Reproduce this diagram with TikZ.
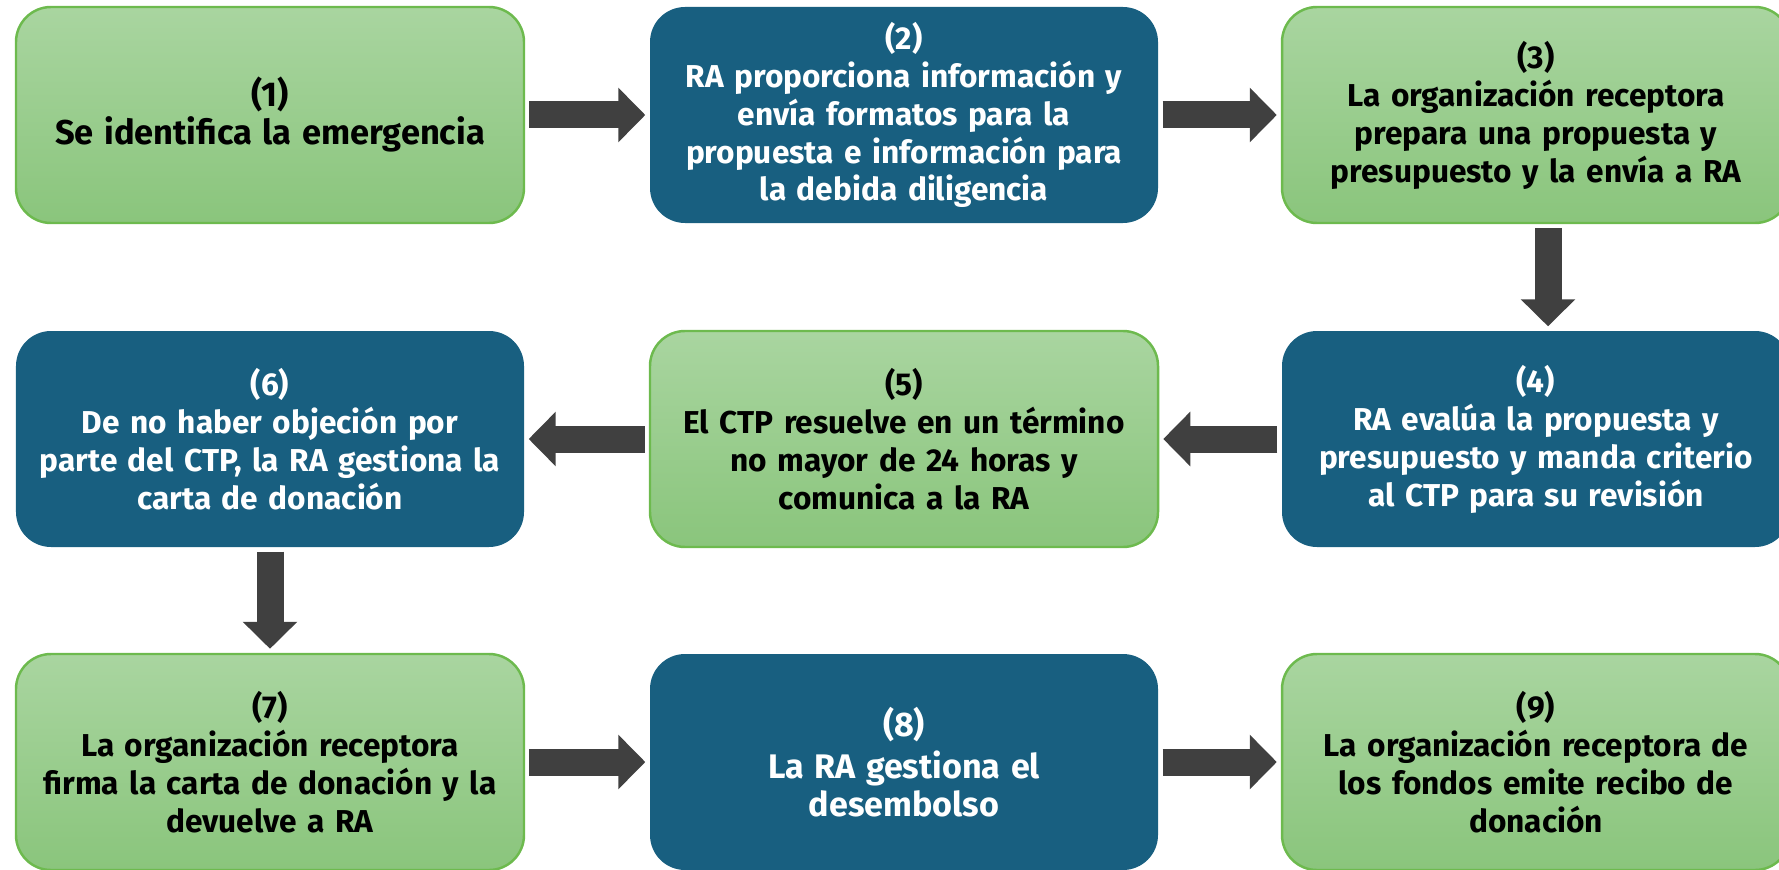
\documentclass[tikz,border=0pt]{standalone}
\usepackage{fontspec}
\setmainfont{Fira Sans}
\usepackage{xcolor}
\usetikzlibrary{arrows.meta}
\definecolor{grtop}{HTML}{A9D5A0}
\definecolor{grbot}{HTML}{8AC57C}
\definecolor{grline}{HTML}{6DBA4E}
\definecolor{rablue}{HTML}{185F80}
\definecolor{flecha}{HTML}{404040}
\tikzset{
  paso/.style={rounded corners=0.35cm, minimum width=5.08cm, minimum height=2.16cm,
    inner xsep=1mm, text width=4.88cm, align=center, font=\fontsize{9}{10.8}\selectfont\bfseries},
  verde/.style={paso, top color=grtop, bottom color=grbot, draw=grline, line width=0.7pt, text=black},
  azul/.style={paso, fill=rablue, text=white},
  flujo/.style={draw=flecha, line width=0.27cm,
    -{Triangle[length=2.7mm 0, width=5.3mm 0]}, flecha, shorten <=0.4mm, shorten >=0.4mm}
}
\begin{document}
\begin{tikzpicture}
  \useasboundingbox (0,0) rectangle (17.79,-8.69);
  \node[verde] (s1) at (2.70,-1.15) {{\fontsize{9.8}{12.6}\selectfont(1)\\Se identifica la emergencia}};
  \node[azul] (s2) at (9.04,-1.15) {(2)\\RA proporciona información y\\envía formatos para la\\propuesta e información para\\la debida diligencia};
  \node[verde] (s3) at (15.36,-1.15) {(3)\\La organización receptora\\prepara una propuesta y\\presupuesto y la envía a RA};
  \node[azul] (s4) at (15.36,-4.39) {(4)\\RA evalúa la propuesta y\\presupuesto y manda criterio\\al CTP para su revisión};
  \node[verde] (s5) at (9.04,-4.39) {(5)\\El CTP resuelve en un término\\no mayor de 24 horas y\\comunica a la RA};
  \node[azul] (s6) at (2.70,-4.39) {(6)\\De no haber objeción por\\parte del CTP, la RA gestiona la\\carta de donación};
  \node[verde] (s7) at (2.70,-7.62) {(7)\\La organización receptora\\firma la carta de donación y la\\devuelve a RA};
  \node[azul] (s8) at (9.04,-7.62) {{\fontsize{9.7}{11.8}\selectfont(8)\\La RA gestiona el\\desembolso}};
  \node[verde] (s9) at (15.36,-7.62) {(9)\\La organización receptora de\\los fondos emite recibo de\\donación};

  \draw[flujo] (s1.east) -- (s2.west);
  \draw[flujo] (s2.east) -- (s3.west);
  \draw[flujo] ([xshift=1.2mm]s3.south) -- ([xshift=1.2mm]s4.north);
  \draw[flujo] (s4.west) -- (s5.east);
  \draw[flujo] (s5.west) -- (s6.east);
  \draw[flujo] (s6.south) -- (s7.north);
  \draw[flujo] (s7.east) -- (s8.west);
  \draw[flujo] (s8.east) -- (s9.west);
\end{tikzpicture}
\end{document}
